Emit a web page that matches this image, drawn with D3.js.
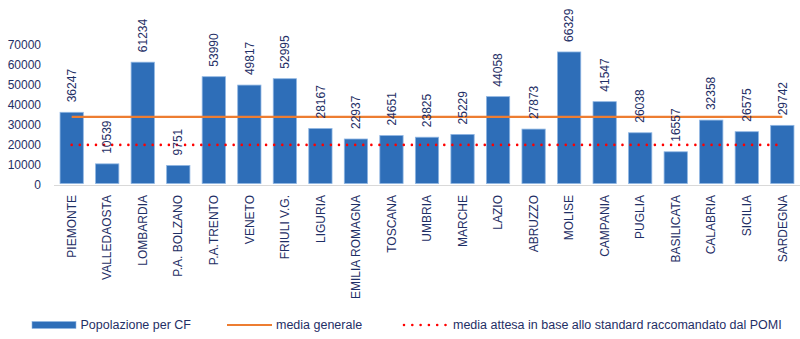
<!DOCTYPE html>
<html>
<head>
<meta charset="utf-8">
<script src="https://cdn.jsdelivr.net/npm/d3@7"></script>
<style>
  body { margin: 0; background: #fff; }
  svg { display: block; font-family: "Liberation Sans", Arial, sans-serif; }
</style>
</head>
<body>
<svg id="chart" width="800" height="339"></svg>
<script>
const categories = ["PIEMONTE","VALLEDAOSTA","LOMBARDIA","P.A. BOLZANO","P.A.TRENTO","VENETO","FRIULI V.G.","LIGURIA","EMILIA ROMAGNA","TOSCANA","UMBRIA","MARCHE","LAZIO","ABRUZZO","MOLISE","CAMPANIA","PUGLIA","BASILICATA","CALABRIA","SICILIA","SARDEGNA"];
const popolazione = [36247,10539,61234,9751,53990,49817,52995,28167,22937,24651,23825,25229,44058,27873,66329,41547,26038,16557,32358,26575,29742];
const mediaGenerale = [34000];
const mediaAttesa = [20000];
const yTicks = [0,10000,20000,30000,40000,50000,60000,70000];
const legendLabels = ["Popolazione per CF","media generale","media attesa in base allo standard raccomandato dal POMI"];

const textColor = "#1F2F66";
const barColor = "#2E6EB8";
const svg = d3.select("#chart");

const x = d3.scaleBand().domain(categories).range([54, 800]).paddingInner(0.345).paddingOuter(0.17);
const y = d3.scaleLinear().domain([0, 70000]).range([185, 44.6]);

// y axis labels
const yAxis = d3.axisLeft(y).tickValues(yTicks).tickSize(0).tickPadding(0).tickFormat(d3.format("d"));
const yg = svg.append("g").attr("transform", "translate(41,0)").call(yAxis);
yg.select(".domain").remove();
yg.selectAll("text").attr("fill", textColor).style("font-size", "12px").style("font-family", "Liberation Sans, Arial, sans-serif");

// bars
svg.append("g").selectAll("rect").data(popolazione).join("rect")
  .attr("x", (d, i) => x(categories[i]))
  .attr("width", x.bandwidth())
  .attr("y", d => y(d))
  .attr("height", d => y(0) - y(d) - 1.5)
  .attr("fill", barColor)
  .attr("stroke", "#8FB6E3")
  .attr("stroke-width", 0.8);

// x axis baseline
const xAxis = d3.axisBottom(x).tickSize(0).tickPadding(0);
const xg = svg.append("g").attr("transform", `translate(0,${y(0)})`).call(xAxis);
xg.select(".domain").attr("stroke", "#D9D9D9").attr("stroke-width", 1).attr("d", "M54,0.5H800");
xg.selectAll("text")
  .attr("fill", textColor)
  .style("font-size", "12px")
  .style("font-family", "Liberation Sans, Arial, sans-serif")
  .attr("text-anchor", "end")
  .attr("transform", "rotate(-90)")
  .attr("x", -10)
  .attr("y", 0)
  .attr("dy", "0.35em");

// lines
const cx = c => x(c) + x.bandwidth() / 2;
const first = categories[0], last = categories[categories.length - 1];
svg.append("g").selectAll("line.mg").data(mediaGenerale).join("line")
  .attr("x1", cx(first)).attr("x2", cx(last))
  .attr("y1", d => y(d)).attr("y2", d => y(d))
  .attr("stroke", "#ED7D31").attr("stroke-width", 2.2);

svg.append("g").selectAll("line.ma").data(mediaAttesa).join("line")
  .attr("x1", cx(first)).attr("x2", cx(last))
  .attr("y1", d => y(d)).attr("y2", d => y(d))
  .attr("stroke", "#FF0000").attr("stroke-width", 2.6)
  .attr("stroke-linecap", "round")
  .attr("stroke-dasharray", "0,8.1");

// data labels
svg.append("g").selectAll("text").data(popolazione).join("text")
  .attr("transform", (d, i) => `translate(${cx(categories[i])},${y(d) - 10}) rotate(-90)`)
  .attr("dy", "0.35em")
  .attr("text-anchor", "start")
  .attr("fill", textColor)
  .style("font-size", "12px")
  .text(d => d);

// legend
const lg = svg.append("g").attr("fill", textColor).style("font-size", "12.5px");
lg.append("rect").attr("x", 32).attr("y", 321.5).attr("width", 44).attr("height", 7).attr("fill", barColor).attr("stroke", "#8FB6E3").attr("stroke-width", 0.6);
lg.append("text").attr("x", 80.5).attr("y", 325).attr("dy", "0.35em").text(legendLabels[0]);
lg.append("line").attr("x1", 227).attr("x2", 272).attr("y1", 325).attr("y2", 325).attr("stroke", "#ED7D31").attr("stroke-width", 2);
lg.append("text").attr("x", 276).attr("y", 325).attr("dy", "0.35em").text(legendLabels[1]);
lg.append("line").attr("x1", 404).attr("x2", 446).attr("y1", 325).attr("y2", 325).attr("stroke", "#FF0000").attr("stroke-width", 2.6).attr("stroke-linecap", "round").attr("stroke-dasharray", "0,8.3");
lg.append("text").attr("x", 453).attr("y", 325).attr("dy", "0.35em").text(legendLabels[2]);
</script>
</body>
</html>
